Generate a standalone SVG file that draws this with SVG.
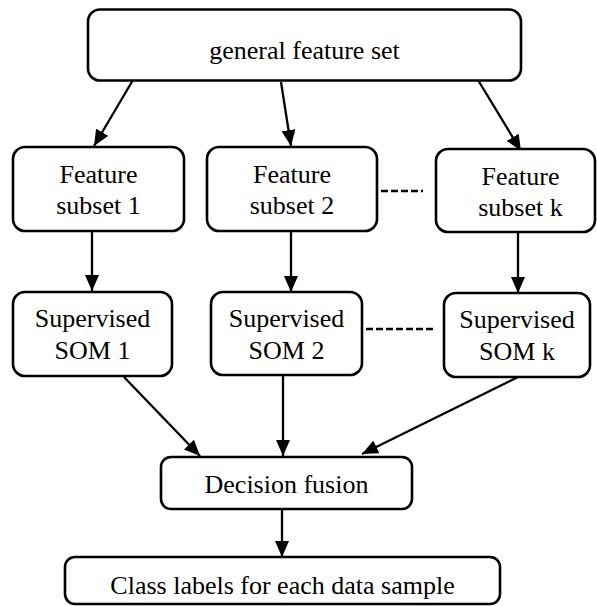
<svg xmlns="http://www.w3.org/2000/svg" width="597" height="606" viewBox="0 0 597 606">
<defs>
<style>
.box{fill:#fff;stroke:#000;stroke-width:2.6}
.t{font-family:"Liberation Serif","Times New Roman",serif;font-size:26px;fill:#000;text-anchor:middle}
.e{fill:none;stroke:#000;stroke-width:2.3;marker-end:url(#ah)}
.d{fill:none;stroke:#000;stroke-width:2.3;stroke-dasharray:7,3}
</style>
<marker id="ah" markerUnits="userSpaceOnUse" markerWidth="16" markerHeight="14" refX="16" refY="7" orient="auto">
<path d="M0,0 L16,7 L0,14 z" fill="#000"/>
</marker>
</defs>
<rect width="597" height="606" fill="#fff"/>
<g id="connectors">
<line class="e" x1="133" y1="80" x2="94" y2="146"/>
<line class="e" x1="281" y1="82" x2="291" y2="146"/>
<line class="e" x1="478" y1="80" x2="521" y2="151"/>
<line class="e" x1="92" y1="231" x2="92" y2="291"/>
<line class="e" x1="291" y1="231" x2="291" y2="292"/>
<line class="e" x1="518" y1="232" x2="518" y2="293"/>
<line class="e" x1="124" y1="377" x2="200" y2="456"/>
<line class="e" x1="283" y1="375" x2="283" y2="456"/>
<line class="e" x1="518" y1="377" x2="362" y2="454"/>
<line class="e" x1="282" y1="509" x2="282" y2="557"/>
<line class="d" x1="381" y1="191" x2="423" y2="191"/>
<line class="d" x1="366" y1="329" x2="436" y2="329"/>
</g>
<g id="general">
<rect class="box" x="88" y="9.5" width="433" height="71" rx="12"/>
<text class="t" x="304.5" y="59">general feature set</text>
</g>
<g id="fs1">
<rect class="box" x="13" y="147" width="171" height="84" rx="12"/>
<text class="t" x="98.5" y="183">Feature</text>
<text class="t" x="98.5" y="214">subset 1</text>
</g>
<g id="fs2">
<rect class="box" x="207" y="147" width="170" height="84" rx="12"/>
<text class="t" x="292" y="183">Feature</text>
<text class="t" x="292" y="214">subset 2</text>
</g>
<g id="fsk">
<rect class="box" x="436" y="149" width="159" height="83" rx="12"/>
<text class="t" x="520.5" y="185">Feature</text>
<text class="t" x="520.5" y="216">subset k</text>
</g>
<g id="som1">
<rect class="box" x="13" y="292" width="159" height="84" rx="12"/>
<text class="t" x="92.5" y="327">Supervised</text>
<text class="t" x="92.5" y="359">SOM 1</text>
</g>
<g id="som2">
<rect class="box" x="211" y="292" width="151" height="83" rx="12"/>
<text class="t" x="286.5" y="327">Supervised</text>
<text class="t" x="286.5" y="359">SOM 2</text>
</g>
<g id="somk">
<rect class="box" x="444" y="293" width="146" height="84" rx="12"/>
<text class="t" x="517" y="328">Supervised</text>
<text class="t" x="517" y="360">SOM k</text>
</g>
<g id="fusion">
<rect class="box" x="161" y="457" width="251" height="52" rx="10"/>
<text class="t" x="286.5" y="493">Decision fusion</text>
</g>
<g id="classlabels">
<rect class="box" x="65" y="557" width="435" height="47" rx="10"/>
<text class="t" x="282.5" y="594">Class labels for each data sample</text>
</g>
</svg>
